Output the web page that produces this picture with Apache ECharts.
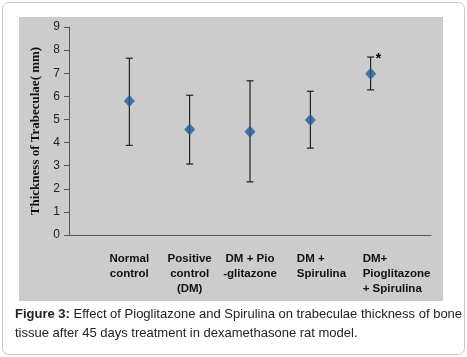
<!DOCTYPE html>
<html><head><meta charset="utf-8">
<script src="https://cdn.jsdelivr.net/npm/echarts@6/dist/echarts.min.js"></script>
<style>html,body{margin:0;padding:0;background:#fff}#c{width:467px;height:357px}</style>
</head><body><div id="c"></div>
<script>
const categories = ['', 'Normal\ncontrol', 'Positive\ncontrol\n(DM)', 'DM + Pio\n-glitazone', 'DM +\nSpirulina', 'DM+\nPioglitazone\n+ Spirulina', ''];
const means = [5.8, 4.57, 4.47, 4.98, 6.98];
const upper = [7.65, 6.05, 6.67, 6.22, 7.7];
const lower = [3.88, 3.07, 2.3, 3.76, 6.28];
const significance = ['', '', '', '', '*'];
const yTicks = [0, 1, 2, 3, 4, 5, 6, 7, 8, 9];

const chart = echarts.init(document.getElementById('c'));
const pts = means.map((v, i) => [categories[i + 1], v]);
const bars = means.map((v, i) => [categories[i + 1], lower[i], upper[i], significance[i]]);
const lblFont = {fontFamily: 'Liberation Sans', fontWeight: 'bold', fontSize: 11.5, color: '#111', lineHeight: 15};
chart.setOption({
  animation: false,
  graphic: [
    {type: 'rect', left: 2, top: 2, shape: {width: 462, height: 352, r: 6}, style: {fill: '#fff', stroke: '#c8c8c8', lineWidth: 1}, z: -10},
    {type: 'rect', left: 19, top: 17, shape: {width: 424, height: 284}, style: {fill: '#cccccc'}, z: -9}
  ],
  title: {
    left: 15, top: 305, padding: 0,
    text: '{b|Figure 3:} Effect of Pioglitazone and Spirulina on trabeculae thickness of bone\ntissue after 45 days treatment in dexamethasone rat model.',
    textStyle: {
      fontFamily: 'Liberation Sans', fontSize: 13, fontWeight: 'normal', color: '#222', lineHeight: 19,
      rich: {b: {fontFamily: 'Liberation Sans', fontSize: 13, fontWeight: 'bold', color: '#222', lineHeight: 19}}
    }
  },
  grid: {left: 69, top: 27, width: 362, height: 208},
  xAxis: {
    type: 'category', data: categories, boundaryGap: false,
    axisLine: {lineStyle: {color: '#555', width: 1}},
    axisTick: {show: false},
    axisLabel: Object.assign({
      interval: 0, margin: 16,
      formatter: (v, i) => {
        if (i === 4) return v.split('\n').map(s => '{a|' + s + '}').join('\n');
        if (i === 5) return v.split('\n').map(s => '{b|' + s + '}').join('\n');
        return v;
      },
      rich: {
        a: Object.assign({width: 52, align: 'left', padding: [0, 0, 0, 25]}, lblFont),
        b: Object.assign({width: 70, align: 'left', padding: [0, 0, 0, 54]}, lblFont)
      }
    }, lblFont)
  },
  yAxis: {
    type: 'value', min: 0, max: 9, interval: 1,
    name: 'Thickness of Trabeculae( mm)', nameLocation: 'middle', nameGap: 26,
    nameTextStyle: {fontFamily: 'Liberation Serif', fontWeight: 'bold', fontSize: 13, color: '#111'},
    splitLine: {show: false},
    axisLine: {show: true, lineStyle: {color: '#555'}},
    axisTick: {show: true, length: 5, lineStyle: {color: '#555'}},
    axisLabel: {margin: 9, fontFamily: 'Liberation Sans', fontSize: 12, color: '#222', formatter: v => yTicks.includes(v) ? String(v) : ''}
  },
  series: [
    {
      type: 'custom', data: bars, z: 2,
      renderItem: (params, api) => {
        const lo = api.coord([api.value(0), api.value(1)]);
        const hi = api.coord([api.value(0), api.value(2)]);
        const w = 3.5;
        const st = {stroke: '#000', lineWidth: 1};
        const children = [
          {type: 'line', shape: {x1: lo[0], y1: lo[1], x2: hi[0], y2: hi[1]}, style: st},
          {type: 'line', shape: {x1: lo[0] - w, y1: lo[1], x2: lo[0] + w, y2: lo[1]}, style: st},
          {type: 'line', shape: {x1: hi[0] - w, y1: hi[1], x2: hi[0] + w, y2: hi[1]}, style: st}
        ];
        const s = significance[params.dataIndex];
        if (s) children.push({type: 'text', style: {text: s, x: hi[0] + 5, y: hi[1] + 2, fill: '#000', font: 'bold 14px Liberation Sans', textVerticalAlign: 'middle'}});
        return {type: 'group', children};
      }
    },
    {
      type: 'scatter', data: pts, symbol: 'diamond', symbolSize: [11, 12], z: 3,
      itemStyle: {color: '#245a96'}
    }
  ]
});
</script></body></html>
